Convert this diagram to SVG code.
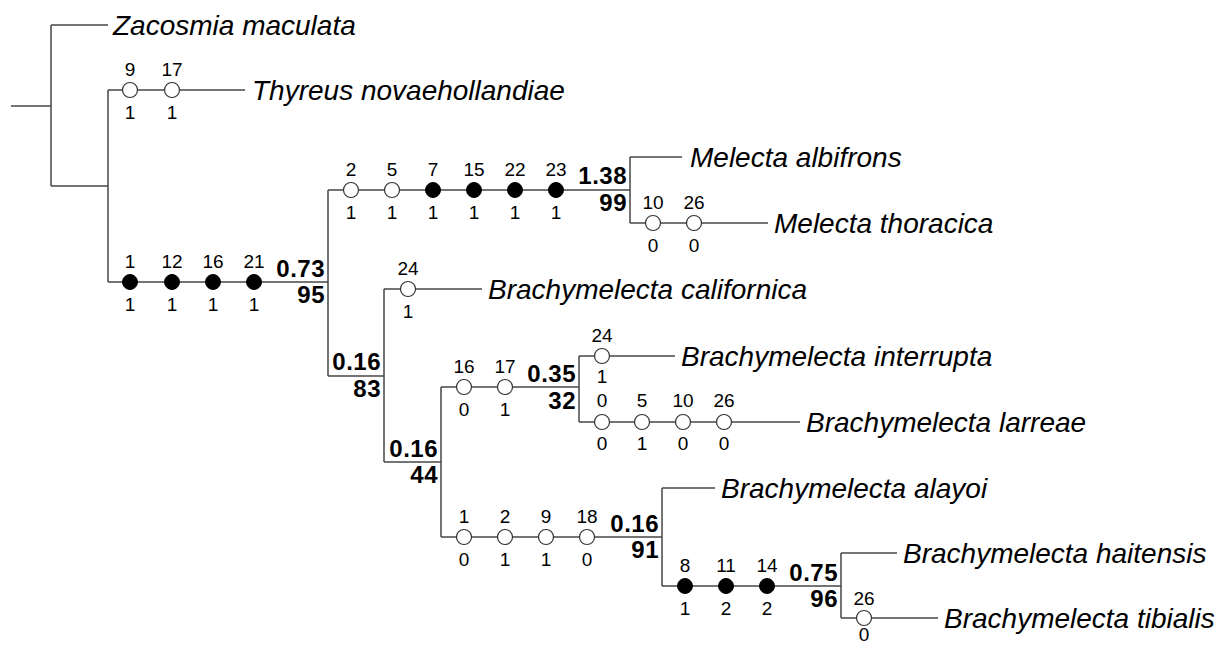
<svg xmlns="http://www.w3.org/2000/svg" width="1228" height="646" viewBox="0 0 1228 646">
<style>
.br{stroke:#474747;stroke-width:1.5;fill:none}
.o{fill:#fff;stroke:#333;stroke-width:1.2}
.f{fill:#000;stroke:#000;stroke-width:1}
.sp{font-family:"Liberation Sans",Arial,sans-serif;font-style:italic;font-size:28px;fill:#000}
.ch{font-family:"Liberation Sans",Arial,sans-serif;font-size:19px;text-anchor:middle;fill:#000}
.su{font-family:"Liberation Sans",Arial,sans-serif;font-size:24px;font-weight:bold;text-anchor:end;fill:#000;letter-spacing:0.5px}
</style>
<rect width="1228" height="646" fill="#fff"/>
<g id="connectors" class="br">
<path d="M11,106H51M51,25V186M51,25H108M51,186H108M108,90V282M108,90H245M108,282H328M328,190V376M328,190H630M630,157V223M630,157H682M630,223H768M328,376H384M384,289V462M384,289H482M384,462H441M441,387V537M441,387H579M579,356V422M579,356H675M579,422H800M441,537H662M662,488V586M662,488H715M662,586H841M841,553V618M841,553H897M841,618H938"/>
</g>
<g id="tip-zacosmia"><text class="sp" x="113" y="35">Zacosmia maculata</text></g>
<g id="tip-thyreus"><text class="sp" x="252" y="100">Thyreus novaehollandiae</text></g>
<g id="tip-albifrons"><text class="sp" x="690" y="167">Melecta albifrons</text></g>
<g id="tip-thoracica"><text class="sp" x="774" y="233">Melecta thoracica</text></g>
<g id="tip-californica"><text class="sp" x="488" y="299">Brachymelecta californica</text></g>
<g id="tip-interrupta"><text class="sp" x="681" y="366">Brachymelecta interrupta</text></g>
<g id="tip-larreae"><text class="sp" x="806" y="432">Brachymelecta larreae</text></g>
<g id="tip-alayoi"><text class="sp" x="721" y="498">Brachymelecta alayoi</text></g>
<g id="tip-haitensis"><text class="sp" x="903" y="563">Brachymelecta haitensis</text></g>
<g id="tip-tibialis"><text class="sp" x="944" y="628">Brachymelecta tibialis</text></g>

<g id="chars-thyreus">
<circle class="o" cx="130" cy="90" r="7.5"/><circle class="o" cx="172" cy="90" r="7.5"/>
<text class="ch" x="130" y="76">9</text><text class="ch" x="130" y="118.5">1</text>
<text class="ch" x="172" y="76">17</text><text class="ch" x="172" y="118.5">1</text>
</g>
<g id="chars-ingroup">
<circle class="f" cx="130" cy="282" r="7.5"/><circle class="f" cx="172" cy="282" r="7.5"/><circle class="f" cx="213" cy="282" r="7.5"/><circle class="f" cx="254" cy="282" r="7.5"/>
<text class="ch" x="130" y="268">1</text><text class="ch" x="130" y="310.5">1</text>
<text class="ch" x="172" y="268">12</text><text class="ch" x="172" y="310.5">1</text>
<text class="ch" x="213" y="268">16</text><text class="ch" x="213" y="310.5">1</text>
<text class="ch" x="254" y="268">21</text><text class="ch" x="254" y="310.5">1</text>
</g>
<g id="chars-melecta">
<circle class="o" cx="351" cy="190" r="7.5"/><circle class="o" cx="392" cy="190" r="7.5"/><circle class="f" cx="433" cy="190" r="7.5"/><circle class="f" cx="474" cy="190" r="7.5"/><circle class="f" cx="515" cy="190" r="7.5"/><circle class="f" cx="556" cy="190" r="7.5"/>
<text class="ch" x="351" y="176">2</text><text class="ch" x="351" y="218.5">1</text>
<text class="ch" x="392" y="176">5</text><text class="ch" x="392" y="218.5">1</text>
<text class="ch" x="433" y="176">7</text><text class="ch" x="433" y="218.5">1</text>
<text class="ch" x="474" y="176">15</text><text class="ch" x="474" y="218.5">1</text>
<text class="ch" x="515" y="176">22</text><text class="ch" x="515" y="218.5">1</text>
<text class="ch" x="556" y="176">23</text><text class="ch" x="556" y="218.5">1</text>
</g>
<g id="chars-thoracica">
<circle class="o" cx="653" cy="223" r="7.5"/><circle class="o" cx="694" cy="223" r="7.5"/>
<text class="ch" x="653" y="209">10</text><text class="ch" x="653" y="251.5">0</text>
<text class="ch" x="694" y="209">26</text><text class="ch" x="694" y="251.5">0</text>
</g>
<g id="chars-californica">
<circle class="o" cx="408" cy="289" r="7.5"/>
<text class="ch" x="408" y="275">24</text><text class="ch" x="408" y="317.5">1</text>
</g>
<g id="chars-clade-a">
<circle class="o" cx="464" cy="387" r="7.5"/><circle class="o" cx="505" cy="387" r="7.5"/>
<text class="ch" x="464" y="373">16</text><text class="ch" x="464" y="415.5">0</text>
<text class="ch" x="505" y="373">17</text><text class="ch" x="505" y="415.5">1</text>
</g>
<g id="chars-interrupta">
<circle class="o" cx="602" cy="356" r="7.5"/>
<text class="ch" x="602" y="342">24</text><text class="ch" x="602" y="383">1</text>
</g>
<g id="chars-larreae">
<circle class="o" cx="602" cy="422" r="7.5"/><circle class="o" cx="642" cy="422" r="7.5"/><circle class="o" cx="683" cy="422" r="7.5"/><circle class="o" cx="724" cy="422" r="7.5"/>
<text class="ch" x="602" y="407">0</text><text class="ch" x="602" y="449.5">0</text>
<text class="ch" x="642" y="407">5</text><text class="ch" x="642" y="449.5">1</text>
<text class="ch" x="683" y="407">10</text><text class="ch" x="683" y="449.5">0</text>
<text class="ch" x="724" y="407">26</text><text class="ch" x="724" y="449.5">0</text>
</g>
<g id="chars-clade-b">
<circle class="o" cx="464" cy="537" r="7.5"/><circle class="o" cx="505" cy="537" r="7.5"/><circle class="o" cx="546" cy="537" r="7.5"/><circle class="o" cx="587" cy="537" r="7.5"/>
<text class="ch" x="464" y="523">1</text><text class="ch" x="464" y="565.5">0</text>
<text class="ch" x="505" y="523">2</text><text class="ch" x="505" y="565.5">1</text>
<text class="ch" x="546" y="523">9</text><text class="ch" x="546" y="565.5">1</text>
<text class="ch" x="587" y="523">18</text><text class="ch" x="587" y="565.5">0</text>
</g>
<g id="chars-clade-c">
<circle class="f" cx="685" cy="586" r="7.5"/><circle class="f" cx="726" cy="586" r="7.5"/><circle class="f" cx="767" cy="586" r="7.5"/>
<text class="ch" x="685" y="572">8</text><text class="ch" x="685" y="614.5">1</text>
<text class="ch" x="726" y="572">11</text><text class="ch" x="726" y="614.5">2</text>
<text class="ch" x="767" y="572">14</text><text class="ch" x="767" y="614.5">2</text>
</g>
<g id="chars-tibialis">
<circle class="o" cx="864" cy="618" r="7.5"/>
<text class="ch" x="864" y="605">26</text><text class="ch" x="864" y="641">0</text>
</g>

<g id="node-ingroup"><text class="su" x="325" y="277">0.73</text><text class="su" x="325" y="303">95</text></g>
<g id="node-melecta"><text class="su" x="627" y="184">1.38</text><text class="su" x="627" y="211">99</text></g>
<g id="node-brachymelecta"><text class="su" x="381" y="370">0.16</text><text class="su" x="381" y="397">83</text></g>
<g id="node-b2"><text class="su" x="438" y="457">0.16</text><text class="su" x="438" y="483">44</text></g>
<g id="node-a"><text class="su" x="576" y="382">0.35</text><text class="su" x="576" y="409">32</text></g>
<g id="node-b"><text class="su" x="659" y="532">0.16</text><text class="su" x="659" y="558">91</text></g>
<g id="node-c"><text class="su" x="838" y="581">0.75</text><text class="su" x="838" y="607">96</text></g>
</svg>
